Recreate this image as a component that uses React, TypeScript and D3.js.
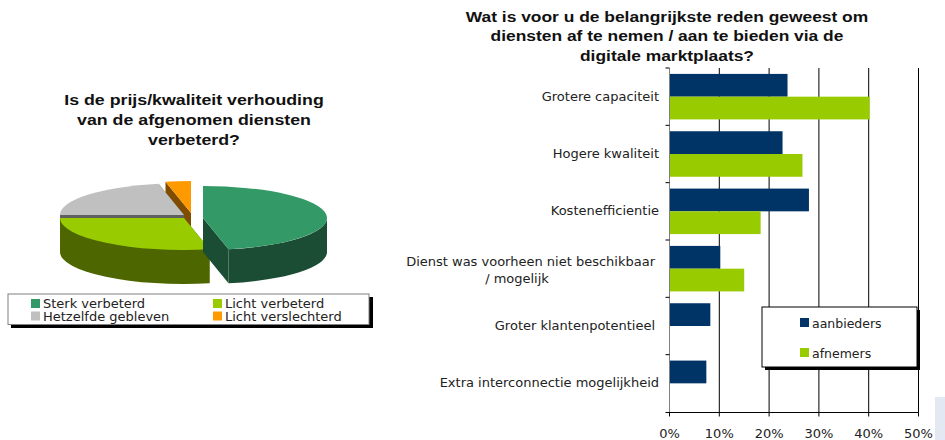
import React from "react";
import * as d3 from "d3";

const pieLabels = ["Sterk verbeterd", "Licht verbeterd", "Hetzelfde gebleven", "Licht verslechterd"];
const pieValues = [46.7, 28.3, 21.7, 3.3];
const pieColors = ["#339966", "#99CC00", "#C0C0C0", "#FF9900"];
const pieSides = ["#1A4D33", "#4D6600", "#606060", "#804D00"];
const pieCenters: [number, number][] = [[203, 218], [184, 218], [184, 215], [191, 213]];

const categories = ["Grotere capaciteit", "Hogere kwaliteit", "Kostenefficientie", "Dienst was voorheen niet beschikbaar", "Groter klantenpotentieel", "Extra interconnectie mogelijkheid"];
const aanbieders = [23.7, 22.7, 28, 10.2, 8.2, 7.4];
const afnemers = [40.2, 26.7, 18.3, 15, 0, 0];
const xTicks = [0, 10, 20, 30, 40, 50];

const FONT = "'DejaVu Sans', Verdana, sans-serif";
const TITLE = "'Liberation Sans', Arial, sans-serif";
const NAVY = "#003366";
const LIME = "#99CC00";
const RX = 124, RY = 32, DEPTH = 34;

const pt = (c: [number, number], t: number, dy = 0): [number, number] => [c[0] + RX * Math.sin(t), c[1] - RY * Math.cos(t) + dy];

export default function App() {
  const x = d3.scaleLinear().domain([0, 50]).range([669.5, 918.5]);
  const y = d3.scaleBand().domain(categories).range([68, 412]);
  const inner = d3.scaleBand().domain(["a", "b"]).range([0, y.bandwidth()]).paddingInner(0).paddingOuter(0.26);
  const pie = d3.pie<number>().sort(null).value((d) => d);
  const arcs = pie(pieValues);
  const arc = d3.arc<d3.PieArcDatum<number>>().innerRadius(0).outerRadius(RX);
  const order = [3, 2, 1, 0];

  return (
    <svg width={945} height={440} style={{ position: "absolute", left: 0, top: 0, background: "#fff" }}>
      <rect x={935} y={397} width={10} height={43} fill="#E4E8F2" />

      {/* left title */}
      <g fontFamily={TITLE} fontWeight="bold" fontSize={15.5} fill="#111" textAnchor="middle" transform="translate(194,0) scale(1.147,1)">
        {["Is de prijs/kwaliteit verhouding", "van de afgenomen diensten", "verbeterd?"].map((t, i) => (
          <text key={t} x={0} y={105 + i * 20}>{t}</text>
        ))}
      </g>

      {/* pie */}
      {order.map((i) => {
        const a = arcs[i];
        const c = pieCenters[i];
        const wStart = Math.max(a.startAngle, Math.PI / 2);
        const wEnd = Math.min(a.endAngle, (3 * Math.PI) / 2);
        const p0 = pt(c, wStart), p1 = pt(c, wEnd);
        const faces = [a.startAngle, a.endAngle].map((t) => {
          const r = pt(c, t);
          return `M${c[0]},${c[1]}L${r[0]},${r[1]}L${r[0]},${r[1] + DEPTH}L${c[0]},${c[1] + DEPTH}Z`;
        });
        return (
          <g key={i}>
            {faces.map((d, k) => <path key={k} d={d} fill={pieSides[i]} />)}
            {wEnd > wStart && (
              <path
                d={`M${p0[0]},${p0[1]}A${RX},${RY} 0 0 1 ${p1[0]},${p1[1]}L${p1[0]},${p1[1] + DEPTH}A${RX},${RY} 0 0 0 ${p0[0]},${p0[1] + DEPTH}Z`}
                fill={pieSides[i]}
              />
            )}
            <path d={arc(a) as string} transform={`translate(${c[0]},${c[1]}) scale(1,${RY / RX})`} fill={pieColors[i]} />
          </g>
        );
      })}

      {/* pie legend */}
      <rect x={11} y={297} width={362} height={31} fill="#000" />
      <rect x={8} y={294} width={361} height={30.5} fill="#fff" stroke="#808080" strokeWidth={1} />
      {pieLabels.map((l, i) => {
        const lx = i % 2 === 0 ? 31 : 213;
        const ly = i < 2 ? 299 : 311.5;
        return (
          <g key={l}>
            <rect x={lx} y={ly} width={9} height={9} fill={pieColors[i]} />
            <text x={lx + 12} y={ly + 9} fontFamily={FONT} fontSize={13} fill="#222">{l}</text>
          </g>
        );
      })}

      {/* right title */}
      <g fontFamily={TITLE} fontWeight="bold" fontSize={15.5} fill="#111" textAnchor="middle" transform="translate(667,0) scale(1.123,1)">
        {["Wat is voor u de belangrijkste reden geweest om", "diensten af te nemen / aan te bieden via de", "digitale marktplaats?"].map((t, i) => (
          <text key={t} x={0} y={22 + i * 19.5}>{t}</text>
        ))}
      </g>

      {/* grid */}
      {xTicks.slice(1).map((t) => (
        <line key={t} x1={x(t)} x2={x(t)} y1={68} y2={412.5} stroke="#000" />
      ))}

      {/* bars */}
      {categories.map((c, i) => (
        <g key={c}>
          <rect x={x(0)} y={(y(c) as number) + (inner("a") as number)} width={x(aanbieders[i]) - x(0)} height={inner.bandwidth()} fill={NAVY} />
          {afnemers[i] > 0 && (
            <rect x={x(0)} y={(y(c) as number) + (inner("b") as number)} width={x(afnemers[i]) - x(0)} height={inner.bandwidth()} fill={LIME} />
          )}
        </g>
      ))}

      {/* axes */}
      <line x1={x(0)} x2={x(0)} y1={68} y2={412.5} stroke="#808080" />
      <line x1={x(0) - 4} x2={x(50)} y1={412.5} y2={412.5} stroke="#000" />
      {[...categories.map((c) => y(c) as number)].map((v) => (
        <line key={v} x1={x(0) - 4} x2={x(0)} y1={v} y2={v} stroke="#000" />
      ))}
      {xTicks.map((t) => (
        <g key={t}>
          <line x1={x(t)} x2={x(t)} y1={412.5} y2={416.5} stroke="#000" />
          <text x={x(t)} y={437.5} textAnchor="middle" fontFamily={FONT} fontSize={13} fill="#222">{t}%</text>
        </g>
      ))}

      {/* category labels */}
      <g fontFamily={FONT} fontSize={13} fill="#222">
        {categories.map((c, i) => {
          const cy = (y(c) as number) + y.bandwidth() / 2;
          if (i === 3) {
            return (
              <g key={c}>
                <text x={655} y={cy - 3} textAnchor="end">{c}</text>
                <text x={517} y={cy + 14} textAnchor="middle">/ mogelijk</text>
              </g>
            );
          }
          return <text key={c} x={i === 4 ? 655 : 659} y={cy + 4} textAnchor="end">{c}</text>;
        })}
      </g>

      {/* bar legend */}
      <rect x={765} y={310} width={155} height={60} fill="#000" />
      <rect x={762} y={307} width={155} height={60} fill="#fff" stroke="#000" />
      {[["aanbieders", NAVY, 318], ["afnemers", LIME, 348]].map(([l, col, ly]) => (
        <g key={l as string}>
          <rect x={800} y={ly as number} width={9} height={9} fill={col as string} />
          <text x={812} y={(ly as number) + 9.5} fontFamily={FONT} fontSize={12.5} fill="#222">{l as string}</text>
        </g>
      ))}
    </svg>
  );
}
